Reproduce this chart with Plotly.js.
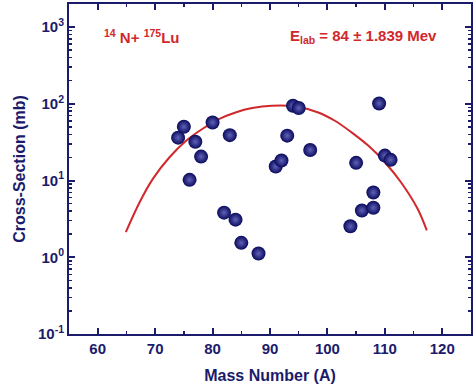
<!DOCTYPE html>
<html><head><meta charset="utf-8">
<script src="https://cdn.plot.ly/plotly-3.0.1.min.js"></script>
<style>html,body{margin:0;padding:0;background:#fff}#chart{width:473px;height:391px}</style>
</head><body><div id="chart"></div>
<script>
// Measured cross-sections
const massNumber = [74, 75, 76, 77, 78, 80, 82, 83, 84, 85, 88, 91, 92, 93, 94, 95, 97, 104, 105, 106, 108, 108, 109, 110, 111];
const crossSection = [36.2, 50.2, 10.2, 32, 20.5, 57, 3.81, 39, 3.09, 1.54, 1.12, 15.2, 18.2, 38.4, 94.2, 87.9, 25, 2.53, 17, 4.07, 4.42, 6.98, 101, 21.1, 18.6];
// Fitted curve
const fitMass = [64.9, 67.3, 69.6, 72.5, 75.4, 78.2, 81.1, 84.0, 86.9, 90.3, 94.4, 98.4, 101.3, 104.2, 107.1, 110.0, 112.8, 115.7, 117.3];
const fitSigma = [2.13, 5.22, 10.5, 20.1, 33.0, 46.9, 63.2, 77.1, 87.9, 94.2, 92.3, 77.1, 60.1, 42.4, 28.5, 17.3, 9.5, 4.29, 2.24];
const yTickVals = [0.1, 1, 10, 100, 1000];
const yTickText = ['10<sup>-1</sup>', '10<sup>0</sup>', '10<sup>1</sup>', '10<sup>2</sup>', '10<sup>3</sup>'];

const navy = '#1b1b6b';
const red = '#d0282c';
const font = 'Liberation Sans, Arial, sans-serif';

const traces = [
  {x: fitMass, y: fitSigma, type: 'scatter', mode: 'lines',
   line: {color: red, width: 2, shape: 'spline'}, hoverinfo: 'skip'},
  {x: massNumber, y: crossSection, type: 'scatter', mode: 'markers',
   marker: {size: 14, color: '#0a0a5c', gradient: {type: 'radial', color: '#5f62b8'},
            line: {width: 0}}}
];

const axisCommon = {
  showline: true, linecolor: navy, linewidth: 2, mirror: 'allticks',
  ticks: 'inside', tickcolor: navy, tickwidth: 2, ticklen: 6,
  showgrid: false, zeroline: false,
  tickfont: {family: font, size: 15, color: navy, weight: 'bold'}
};

const layout = {
  width: 473, height: 391,
  margin: {l: 69, r: 2, t: 4, b: 57},
  paper_bgcolor: '#fff', plot_bgcolor: '#fff',
  showlegend: false,
  xaxis: Object.assign({}, axisCommon, {
    range: [55, 125], dtick: 10, tick0: 0,
    minor: {dtick: 5, ticks: 'inside', ticklen: 3, tickcolor: navy, tickwidth: 1.5},
    title: {text: 'Mass Number (A)', font: {family: font, size: 16, color: navy, weight: 'bold'}, standoff: 14}
  }),
  yaxis: Object.assign({}, axisCommon, {
    type: 'log', range: [-1, 3.3],
    tickmode: 'array', tickvals: yTickVals, ticktext: yTickText,
    minor: {tickmode: 'array', tickvals: [0.2,0.3,0.4,0.5,0.6,0.7,0.8,0.9,2,3,4,5,6,7,8,9,20,30,40,50,60,70,80,90,200,300,400,500,600,700,800,900,2000],
            ticks: 'inside', ticklen: 3, tickcolor: navy, tickwidth: 1.5},
    title: {text: 'Cross-Section (mb)', font: {family: font, size: 16, color: navy, weight: 'bold'}, standoff: 8}
  }),
  annotations: [
    {xref: 'paper', yref: 'paper', x: 0.083, y: 0.9, xanchor: 'left', yanchor: 'middle', showarrow: false,
     text: '<sup>14</sup> N+ <sup>175</sup>Lu', font: {family: font, size: 15, color: red, weight: 'bold'}},
    {xref: 'paper', yref: 'paper', x: 0.92, y: 0.9, xanchor: 'right', yanchor: 'middle', showarrow: false,
     text: 'E<sub>lab</sub> = 84 ± 1.839 Mev', font: {family: font, size: 15, color: red, weight: 'bold'}}
  ]
};

Plotly.newPlot('chart', traces, layout, {displayModeBar: false, staticPlot: true});
</script></body></html>
